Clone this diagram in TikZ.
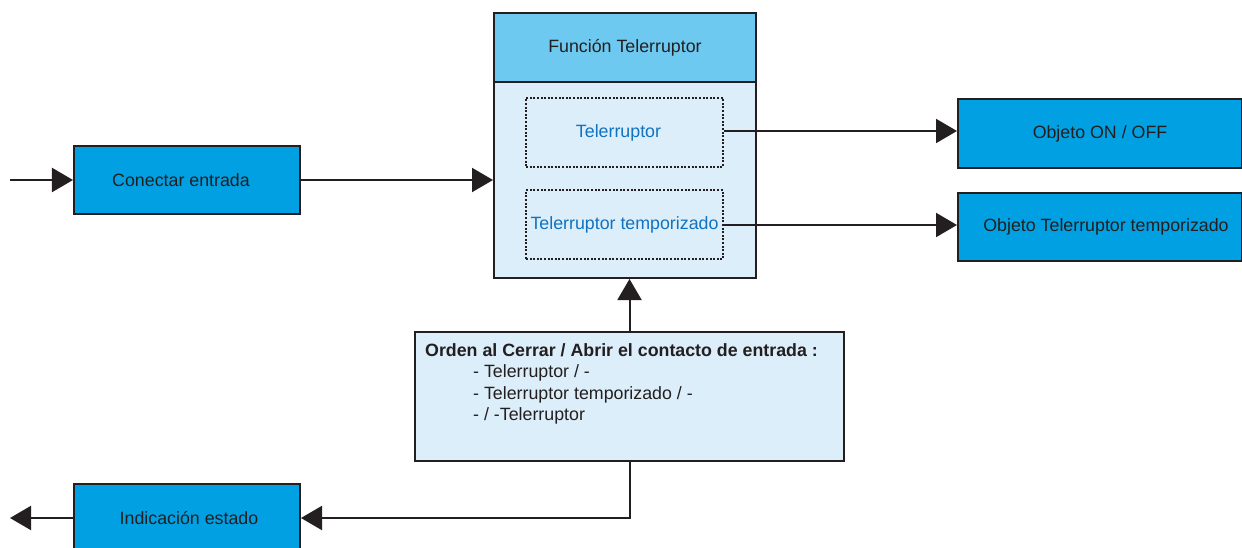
\documentclass[tikz,border=0pt]{standalone}
\usepackage{fontspec}
\setmainfont{Liberation Sans}
\usetikzlibrary{arrows.meta}
\definecolor{boxblue}{RGB}{0,160,227}
\definecolor{headblue}{RGB}{110,201,241}
\definecolor{paleblue}{RGB}{220,238,250}
\definecolor{txtblue}{RGB}{16,114,192}
\definecolor{ink}{RGB}{35,31,32}
\tikzset{
  base/.style={draw=ink, line width=2bp, inner sep=0pt, font=\fontsize{17.8bp}{21bp}\selectfont, text=ink},
  bluebox/.style={base, fill=boxblue},
  dotbox/.style={draw=ink, line width=2bp, dash pattern=on 2bp off 1.6bp, fill=paleblue, inner sep=0pt,
     minimum width=197bp, minimum height=69bp, text=txtblue, font=\fontsize{17.8bp}{21bp}\selectfont},
  conn/.style={draw=ink, line width=2bp},
  arr/.style={conn, -{Triangle[length=21bp, width=24bp]}},
  txt/.style={inner sep=0pt, text=ink, font=\fontsize{17.8bp}{21bp}\selectfont, anchor=base west},
}
\begin{document}
\begin{tikzpicture}[x=1bp, y=-1bp]
\clip (0,0) rectangle (1242,548);
\fill[white] (0,0) rectangle (1242,548);
% main function box
\node[base, fill=headblue, minimum width=262bp, minimum height=69bp] (header) at (625,47.5) {Función Telerruptor};
\node[base, fill=paleblue, minimum width=262bp, minimum height=196bp] (body) at (625,180) {};
\node[dotbox] (tel) at (624.5,132.5) {\hspace*{-12bp}Telerruptor};
\node[dotbox] (temp) at (624.5,225) {Telerruptor temporizado};
% side boxes
\node[bluebox, minimum width=226bp, minimum height=68bp] (conectar) at (187,180) {\hspace*{-12bp}Conectar entrada};
\node[bluebox, minimum width=284bp, minimum height=69bp] (objon) at (1100,133.5) {Objeto ON / OFF};
\node[bluebox, minimum width=284bp, minimum height=68bp] (objtemp) at (1100,227) {\hspace*{12bp}Objeto Telerruptor temporizado};
\node[bluebox, minimum width=226bp, minimum height=68bp] (indic) at (187,518) {\hspace*{4bp}Indicación estado};
% orden box
\node[base, fill=paleblue, minimum width=429bp, minimum height=129bp] (orden) at (629.5,396.5) {};
\node[txt, font=\fontsize{17.8bp}{21bp}\selectfont\bfseries] (l1) at (425,357) {Orden al Cerrar / Abrir el contacto de entrada :};
\node[txt] (l2) at (473,378) {- Telerruptor / -};
\node[txt] (l3) at (473,399) {- Telerruptor temporizado / -};
\node[txt] (l4) at (473,420) {- / -Telerruptor};
% connectors
\coordinate (inp) at (10,180);
\coordinate (outp) at (10,518);
\draw[arr] (inp) -- (conectar.west);
\draw[arr] (conectar.east) -- (conectar.east -| body.west);
\draw[arr] ([yshift=1.5bp]tel.east) -- ([yshift=1.5bp]tel.east -| objon.west);
\draw[arr] (temp.east) -- (temp.east -| objtemp.west);
\draw[arr] (orden.north) -- (orden.north |- body.south);
\draw[arr] (orden.south) |- (indic.east);
\draw[arr] (indic.west) -- (outp);
\end{tikzpicture}
\end{document}
